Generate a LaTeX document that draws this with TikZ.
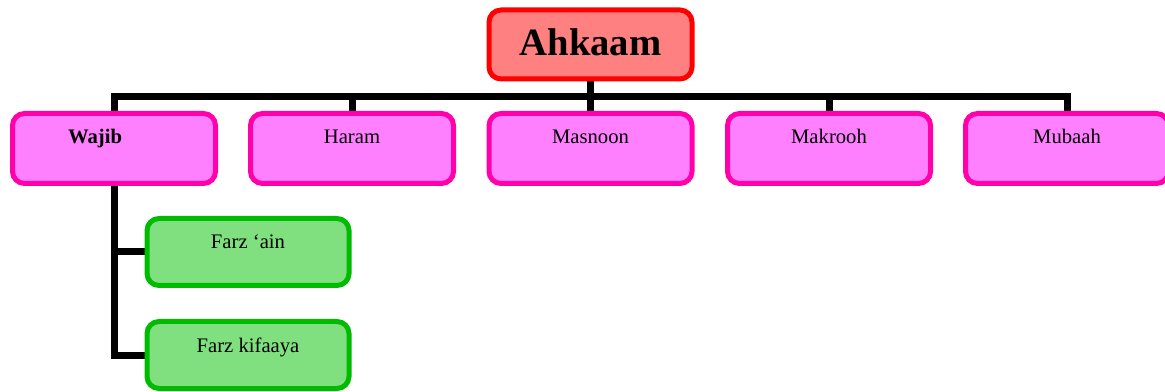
\documentclass[tikz,border=0pt]{standalone}
\usepackage{fontspec}
\setmainfont{Liberation Serif}
\usetikzlibrary{backgrounds}
\definecolor{rootfill}{HTML}{FF8080}
\definecolor{rootdraw}{HTML}{FF0000}
\definecolor{catfill}{HTML}{FF80FF}
\definecolor{catdraw}{HTML}{FF00AA}
\definecolor{subfill}{HTML}{80E080}
\definecolor{subdraw}{HTML}{00BB00}
\tikzset{
  box/.style={draw, line width=3.75pt, rounded corners=9pt, inner sep=0pt},
  rootbox/.style={box, draw=rootdraw, fill=rootfill, minimum width=152.25pt, minimum height=51.75pt},
  catbox/.style={box, draw=catdraw, fill=catfill, minimum width=152.25pt, minimum height=52.5pt},
  subbox/.style={box, draw=subdraw, fill=subfill, minimum width=151.5pt, minimum height=50.25pt},
  lbl/.style={anchor=base, inner sep=0pt, font=\fontsize{15.5}{18}\selectfont},
  conn/.style={draw=black, line width=5.25pt, line join=miter},
}
\begin{document}
\begin{tikzpicture}[x=0.75pt, y=-0.75pt]
\useasboundingbox (0,0) rectangle (1165,392);

% top node
\node[rootbox] (root) at (590.5,44.5) {};
\node[anchor=base, inner sep=0pt, font=\fontsize{29}{32}\selectfont\bfseries] (roottxt) at (590.5,55.5) {Ahkaam};

% five categories
\node[catbox] (wajib)   at (114,148.5)  {};
\node[catbox] (haram)   at (352,148.5)  {};
\node[catbox] (masnoon) at (590.5,148.5){};
\node[catbox] (makrooh) at (829,148.5)  {};
\node[catbox] (mubaah)  at (1067,148.5) {};

\node[lbl, font=\fontsize{15.5}{18}\selectfont\bfseries] (wajibtxt) at (95,144) {Wajib};
\node[lbl] (haramtxt)   at (352,143.5)  {Haram};
\node[lbl] (masnoontxt) at (590.5,143.5){Masnoon};
\node[lbl] (makroohtxt) at (829,143.5)  {Makrooh};
\node[lbl] (mubaahtxt)  at (1067,143.5) {Mubaah};

% subdivisions of Wajib
\node[subbox] (ain)     at (248,252) {};
\node[subbox] (kifaaya) at (248,355) {};
\node[lbl] (aintxt)     at (248,248.5) {Farz ‘ain};
\node[lbl] (kifaayatxt) at (248,352.5) {Farz kifaaya};

\coordinate (bus) at (590.5,97);

\begin{scope}[on background layer]
  \draw[conn] (root.south) -- (bus);
  \draw[conn] (wajib.north) -- (wajib.north |- bus) -- (mubaah.north |- bus) -- (mubaah.north);
  \draw[conn] (haram.north) -- (haram.north |- bus);
  \draw[conn] (masnoon.north) -- (masnoon.north |- bus);
  \draw[conn] (makrooh.north) -- (makrooh.north |- bus);
  \draw[conn] (wajib.south) |- (kifaaya.west);
  \draw[conn] (ain.west) -- (ain.west -| wajib.south);
\end{scope}
\end{tikzpicture}
\end{document}
